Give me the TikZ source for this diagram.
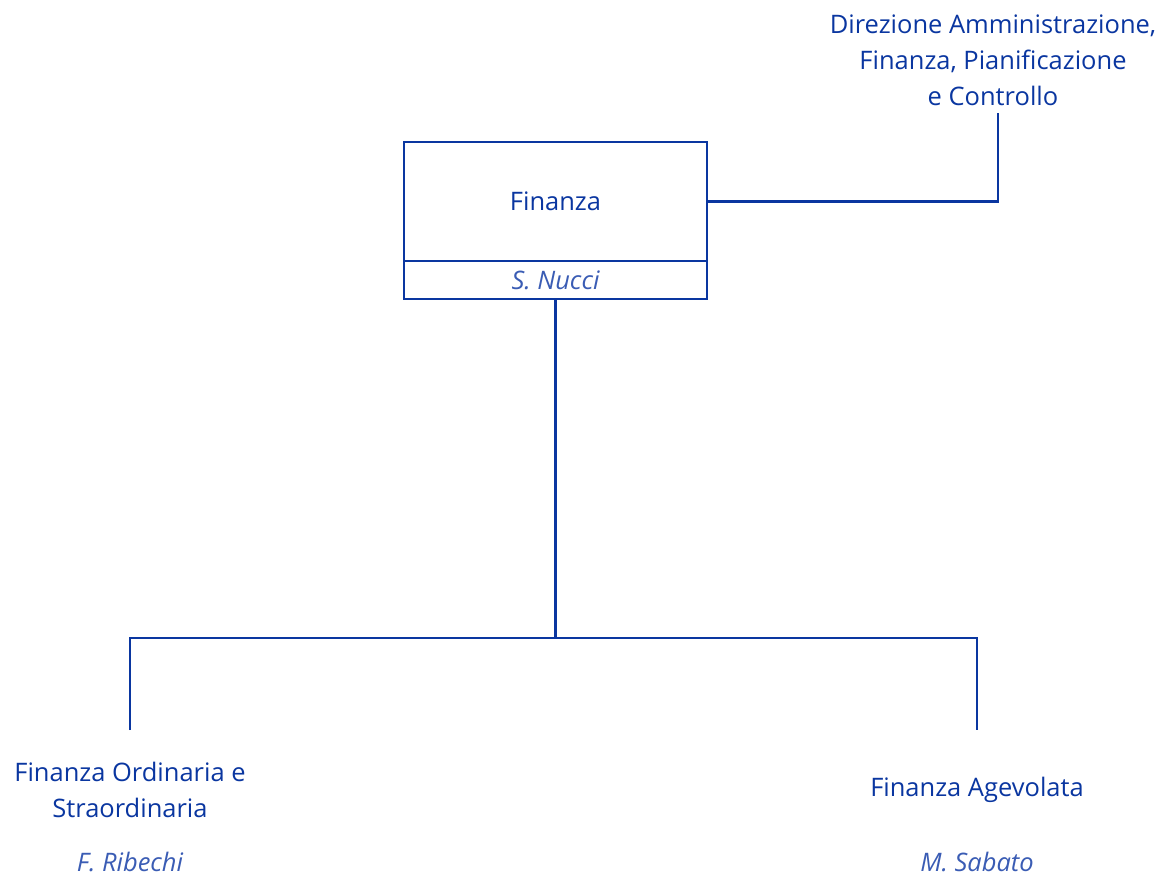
\documentclass[tikz,border=0pt]{standalone}
\usepackage{fontspec}
\setmainfont{Open Sans}
\usetikzlibrary{positioning}
\definecolor{orgblue}{HTML}{0A36A0}
\definecolor{nameblue}{HTML}{3A5CB4}

\tikzset{
 unit/.style={text=orgblue,align=center,font=\fontsize{14.5}{20.5}\selectfont},
 person/.style={text=nameblue,font=\fontsize{14.5}{20.5}\selectfont\itshape},
 link/.style={draw=orgblue,line width=1.6pt},
 frame/.style={draw=orgblue,line width=1.6pt,outer sep=0pt,minimum width=6.06cm},
}

\begin{document}
\begin{tikzpicture}[x=0.02cm,y=-0.02cm]
 \useasboundingbox (0,0) rectangle (1159,878);
 % head box
 \node[unit,frame,minimum height=2.38cm] (fin) at (555.5,201.5) {Finanza};
 \node[person,frame,minimum height=0.76cm,anchor=north] (finname) at (fin.south) {S. Nucci};
 % staff unit
 \node[unit,inner sep=0pt] (dir) at (993,60) {Direzione Amministrazione,\\Finanza, Pianificazione\\e Controllo};
 \coordinate (dirfoot) at (998,113);
 \draw[link] (fin.east) -| (dirfoot);
 % subordinate units
 \coordinate (split) at (555.5,638);
 \node[unit] (ord) at (130,790) {Finanza Ordinaria e\\Straordinaria};
 \node[person] (ordname) at (130,862) {F. Ribechi};
 \node[unit] (agev) at (977,790) {Finanza Agevolata};
 \node[person] (agevname) at (977,862) {M. Sabato};
 \coordinate (ordtop) at (130,730);
 \coordinate (agevtop) at (977,730);
 \draw[link] (finname.south) -- (split);
 \draw[link] (ordtop) |- (split) -| (agevtop);
\end{tikzpicture}
\end{document}
